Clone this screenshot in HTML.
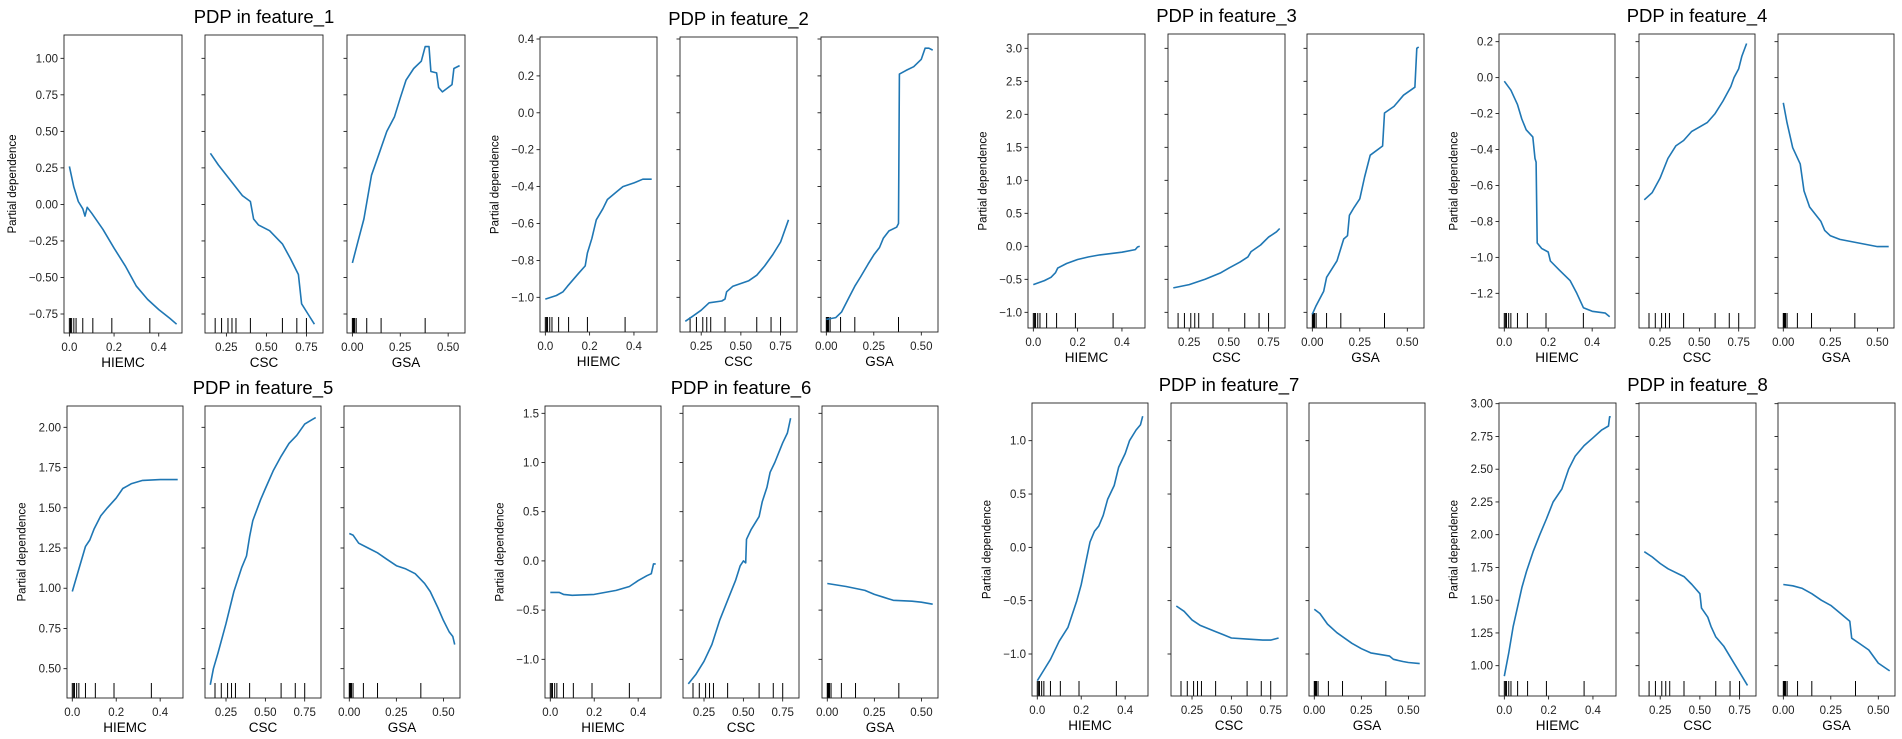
<!DOCTYPE html>
<html><head><meta charset="utf-8">
<style>
html,body{margin:0;padding:0;background:#fff;}
svg{display:block;font-family:"Liberation Sans","DejaVu Sans",sans-serif;}
</style></head>
<body>
<svg id="fig" width="1902" height="739" viewBox="0 0 1902 739" xmlns="http://www.w3.org/2000/svg"></svg>
<script>
// ---- data arrays ----
const featureTitles = ["PDP in feature_1","PDP in feature_2","PDP in feature_3","PDP in feature_4","PDP in feature_5","PDP in feature_6","PDP in feature_7","PDP in feature_8"];
const varNames = ["HIEMC","CSC","GSA"];
const hiemcTicks = [0.0,0.2,0.4];
const hiemcTickLabels = ["0.0","0.2","0.4"];
const cscTicks = [0.25,0.5,0.75];
const cscTickLabels = ["0.25","0.50","0.75"];
const gsaTicks = [0.0,0.25,0.5];
const gsaTickLabels = ["0.00","0.25","0.50"];
const hiemcRug = [0.0,0.005,0.01,0.02,0.03,0.06,0.105,0.19,0.36];
const cscRug = [0.18,0.22,0.26,0.285,0.31,0.4,0.6,0.69,0.75];
const gsaRug = [0.0,0.004,0.008,0.012,0.02,0.075,0.15,0.38];

const yTicks1 = [-0.75,-0.5,-0.25,0,0.25,0.5,0.75,1.0];
const yTicks2 = [-1.0,-0.8,-0.6,-0.4,-0.2,0,0.2,0.4];
const yTicks3 = [-1.0,-0.5,0,0.5,1.0,1.5,2.0,2.5,3.0];
const yTicks4 = [-1.2,-1.0,-0.8,-0.6,-0.4,-0.2,0,0.2];
const yTicks5 = [0.5,0.75,1.0,1.25,1.5,1.75,2.0];
const yTicks6 = [-1.0,-0.5,0,0.5,1.0,1.5];
const yTicks7 = [-1.0,-0.5,0,0.5,1.0];
const yTicks8 = [1.0,1.25,1.5,1.75,2.0,2.25,2.5,2.75,3.0];

const f1HiemcX=[0,0.02,0.04,0.06,0.07,0.08,0.1,0.15,0.2,0.25,0.3,0.35,0.4,0.45,0.48];
const f1HiemcY=[0.26,0.12,0.02,-0.03,-0.08,-0.02,-0.06,-0.17,-0.3,-0.42,-0.56,-0.65,-0.72,-0.78,-0.82];
const f1CscX=[0.15,0.2,0.3,0.35,0.4,0.42,0.45,0.52,0.6,0.65,0.7,0.72,0.76,0.8];
const f1CscY=[0.35,0.27,0.13,0.06,0.02,-0.1,-0.14,-0.18,-0.27,-0.37,-0.48,-0.68,-0.75,-0.82];
const f1GsaX=[0,0.03,0.06,0.08,0.1,0.14,0.18,0.22,0.25,0.28,0.32,0.36,0.38,0.4,0.41,0.44,0.45,0.47,0.52,0.53,0.56];
const f1GsaY=[-0.4,-0.25,-0.1,0.05,0.2,0.35,0.5,0.6,0.73,0.85,0.93,0.98,1.08,1.08,0.91,0.9,0.8,0.77,0.82,0.93,0.95];

const f2HiemcX=[0,0.05,0.08,0.1,0.15,0.18,0.19,0.21,0.23,0.26,0.28,0.32,0.35,0.4,0.44,0.48];
const f2HiemcY=[-1.01,-0.99,-0.97,-0.94,-0.87,-0.83,-0.76,-0.68,-0.58,-0.52,-0.47,-0.43,-0.4,-0.38,-0.36,-0.36];
const f2CscX=[0.15,0.2,0.25,0.3,0.38,0.4,0.41,0.45,0.55,0.6,0.65,0.7,0.75,0.8];
const f2CscY=[-1.13,-1.1,-1.07,-1.03,-1.02,-1.01,-0.97,-0.94,-0.91,-0.88,-0.83,-0.77,-0.7,-0.58];
const f2GsaX=[0,0.05,0.08,0.12,0.15,0.18,0.22,0.25,0.28,0.3,0.33,0.37,0.38,0.385,0.42,0.46,0.5,0.52,0.54,0.56];
const f2GsaY=[-1.12,-1.11,-1.08,-1.0,-0.94,-0.89,-0.82,-0.77,-0.73,-0.68,-0.64,-0.62,-0.6,0.21,0.23,0.25,0.29,0.35,0.35,0.34];

const f3HiemcX=[0,0.05,0.08,0.1,0.11,0.15,0.2,0.25,0.3,0.35,0.4,0.46,0.47,0.48];
const f3HiemcY=[-0.58,-0.52,-0.47,-0.4,-0.33,-0.26,-0.2,-0.16,-0.13,-0.11,-0.09,-0.05,-0.01,0.0];
const f3CscX=[0.15,0.25,0.35,0.45,0.5,0.57,0.62,0.64,0.7,0.75,0.8,0.82];
const f3CscY=[-0.63,-0.58,-0.5,-0.4,-0.33,-0.24,-0.16,-0.08,0.02,0.14,0.22,0.27];
const f3GsaX=[0,0.02,0.06,0.075,0.13,0.165,0.185,0.195,0.22,0.25,0.275,0.305,0.37,0.38,0.43,0.48,0.54,0.55,0.56];
const f3GsaY=[-1.03,-0.9,-0.68,-0.47,-0.22,0.11,0.16,0.47,0.59,0.72,1.05,1.38,1.52,2.02,2.12,2.29,2.41,3.0,3.02];

const f4HiemcX=[0,0.03,0.06,0.08,0.1,0.13,0.14,0.145,0.15,0.17,0.2,0.21,0.25,0.3,0.33,0.36,0.4,0.46,0.48];
const f4HiemcY=[-0.02,-0.07,-0.15,-0.23,-0.29,-0.33,-0.45,-0.47,-0.92,-0.95,-0.97,-1.02,-1.07,-1.13,-1.2,-1.28,-1.3,-1.31,-1.33];
const f4CscX=[0.15,0.2,0.25,0.3,0.35,0.4,0.45,0.55,0.6,0.65,0.7,0.72,0.75,0.77,0.8];
const f4CscY=[-0.68,-0.64,-0.56,-0.45,-0.38,-0.35,-0.3,-0.25,-0.2,-0.13,-0.05,0.0,0.05,0.12,0.19];
const f4GsaX=[0,0.02,0.05,0.09,0.11,0.14,0.2,0.22,0.25,0.3,0.4,0.5,0.56];
const f4GsaY=[-0.14,-0.25,-0.39,-0.48,-0.63,-0.72,-0.8,-0.85,-0.88,-0.9,-0.92,-0.94,-0.94];

const f5HiemcX=[0,0.03,0.06,0.08,0.1,0.13,0.16,0.2,0.23,0.27,0.32,0.4,0.48];
const f5HiemcY=[0.98,1.12,1.26,1.3,1.37,1.45,1.5,1.56,1.62,1.65,1.67,1.675,1.675];
const f5CscX=[0.15,0.17,0.2,0.25,0.3,0.35,0.38,0.4,0.42,0.47,0.5,0.55,0.6,0.65,0.7,0.75,0.8,0.82];
const f5CscY=[0.4,0.5,0.6,0.78,0.98,1.13,1.2,1.32,1.42,1.55,1.62,1.73,1.82,1.9,1.95,2.02,2.05,2.06];
const f5GsaX=[0,0.02,0.05,0.1,0.15,0.2,0.25,0.3,0.35,0.4,0.43,0.47,0.5,0.53,0.55,0.56];
const f5GsaY=[1.34,1.33,1.28,1.25,1.22,1.18,1.14,1.12,1.09,1.03,0.98,0.88,0.8,0.73,0.7,0.65];

const f6HiemcX=[0,0.04,0.06,0.1,0.2,0.3,0.36,0.4,0.44,0.46,0.47,0.48];
const f6HiemcY=[-0.32,-0.32,-0.34,-0.35,-0.34,-0.3,-0.26,-0.2,-0.15,-0.13,-0.03,-0.03];
const f6CscX=[0.15,0.2,0.25,0.3,0.35,0.4,0.45,0.48,0.5,0.515,0.52,0.55,0.6,0.62,0.65,0.67,0.7,0.75,0.78,0.8];
const f6CscY=[-1.25,-1.15,-1.02,-0.85,-0.6,-0.4,-0.2,-0.05,0.0,-0.02,0.22,0.32,0.45,0.6,0.75,0.9,1.0,1.2,1.3,1.45];
const f6GsaX=[0,0.1,0.2,0.25,0.3,0.35,0.45,0.5,0.56];
const f6GsaY=[-0.23,-0.26,-0.3,-0.34,-0.37,-0.4,-0.41,-0.42,-0.44];

const f7HiemcX=[0,0.03,0.06,0.1,0.14,0.18,0.2,0.22,0.24,0.26,0.28,0.3,0.32,0.35,0.37,0.4,0.42,0.45,0.47,0.48];
const f7HiemcY=[-1.25,-1.15,-1.05,-0.88,-0.75,-0.5,-0.35,-0.15,0.05,0.15,0.2,0.3,0.45,0.58,0.75,0.88,1.0,1.1,1.15,1.23];
const f7CscX=[0.15,0.2,0.25,0.3,0.4,0.45,0.5,0.6,0.7,0.75,0.8];
const f7CscY=[-0.55,-0.6,-0.68,-0.73,-0.79,-0.82,-0.85,-0.86,-0.87,-0.87,-0.85];
const f7GsaX=[0,0.03,0.07,0.12,0.2,0.25,0.3,0.4,0.42,0.47,0.5,0.56];
const f7GsaY=[-0.58,-0.62,-0.72,-0.8,-0.9,-0.95,-0.99,-1.02,-1.05,-1.07,-1.08,-1.09];

const f8HiemcX=[0,0.02,0.04,0.06,0.08,0.1,0.13,0.16,0.19,0.22,0.26,0.29,0.32,0.36,0.4,0.44,0.47,0.475,0.48];
const f8HiemcY=[0.92,1.1,1.3,1.45,1.6,1.72,1.87,2.0,2.12,2.25,2.35,2.5,2.6,2.68,2.74,2.8,2.83,2.9,2.9];
const f8CscX=[0.15,0.2,0.25,0.3,0.4,0.45,0.5,0.51,0.55,0.57,0.6,0.65,0.7,0.75,0.8];
const f8CscY=[1.87,1.83,1.78,1.74,1.68,1.62,1.55,1.44,1.37,1.3,1.22,1.15,1.05,0.95,0.85];
const f8GsaX=[0,0.05,0.1,0.15,0.2,0.25,0.3,0.35,0.36,0.4,0.45,0.5,0.55,0.56];
const f8GsaY=[1.62,1.61,1.59,1.55,1.5,1.46,1.4,1.34,1.21,1.17,1.12,1.02,0.97,0.96];

// ---- layout (pixels) ----
const NS="http://www.w3.org/2000/svg";
const svg=document.getElementById('fig');
const xlims=[[-0.024,0.504],[0.1165,0.8535],[-0.028,0.588]];
const xTickSets=[[hiemcTicks,hiemcTickLabels],[cscTicks,cscTickLabels],[gsaTicks,gsaTickLabels]];
const rugs=[hiemcRug,cscRug,gsaRug];
const groups=[
 {lefts:[64,205,347],w:118,top:35,bot:333,v0:1.0,p0:58.3,v1:-0.75,p1:314,ticks:yTicks1,dec:2,series:[[f1HiemcX,f1HiemcY],[f1CscX,f1CscY],[f1GsaX,f1GsaY]]},
 {lefts:[540,680,821],w:117,top:37,bot:332,v0:0.4,p0:39,v1:-1.0,p1:297.3,ticks:yTicks2,dec:1,series:[[f2HiemcX,f2HiemcY],[f2CscX,f2CscY],[f2GsaX,f2GsaY]]},
 {lefts:[1028,1168,1307],w:117,top:34,bot:328,v0:3.0,p0:48.3,v1:-1.0,p1:312.3,ticks:yTicks3,dec:1,series:[[f3HiemcX,f3HiemcY],[f3CscX,f3CscY],[f3GsaX,f3GsaY]]},
 {lefts:[1499,1639,1778],w:116,top:34,bot:328,v0:0.2,p0:41.7,v1:-1.2,p1:293.3,ticks:yTicks4,dec:1,series:[[f4HiemcX,f4HiemcY],[f4CscX,f4CscY],[f4GsaX,f4GsaY]]},
 {lefts:[67,205,344],w:116,top:406,bot:698,v0:2.0,p0:427.3,v1:0.5,p1:668.7,ticks:yTicks5,dec:2,series:[[f5HiemcX,f5HiemcY],[f5CscX,f5CscY],[f5GsaX,f5GsaY]]},
 {lefts:[545,683,822],w:116,top:406,bot:698,v0:1.5,p0:413.3,v1:-1.0,p1:659.3,ticks:yTicks6,dec:1,series:[[f6HiemcX,f6HiemcY],[f6CscX,f6CscY],[f6GsaX,f6GsaY]]},
 {lefts:[1032,1171,1309],w:116,top:403,bot:696,v0:1.0,p0:440.7,v1:-1.0,p1:654,ticks:yTicks7,dec:1,series:[[f7HiemcX,f7HiemcY],[f7CscX,f7CscY],[f7GsaX,f7GsaY]]},
 {lefts:[1499,1639,1778],w:117,top:403,bot:696,v0:3.0,p0:403.7,v1:1.0,p1:665.7,ticks:yTicks8,dec:2,series:[[f8HiemcX,f8HiemcY],[f8CscX,f8CscY],[f8GsaX,f8GsaY]]}
];

function mk(tag,attrs,parent){const e=document.createElementNS(NS,tag);for(const k in attrs)e.setAttribute(k,attrs[k]);(parent||svg).appendChild(e);return e;}
function fmt(v,d){const s=Math.abs(v).toFixed(d);return (v<-1e-9?"\u2212":"")+s;}

groups.forEach((g,gi)=>{
  const grp=mk('g',{});
  
  
  const yScale=v=>g.p0+(v-g.v0)*(g.p1-g.p0)/(g.v1-g.v0);
  const mid=g.lefts[1]+g.w/2;
  const t=mk('text',{x:mid,y:g.top-12,'text-anchor':'middle','font-size':'18.5',fill:'#000'},grp);
  t.textContent=featureTitles[gi];
  
  
  g.lefts.forEach((L,pi)=>{
    const W=g.w;
    const pg=mk('g',{},grp);
    
    
    const xl=xlims[pi];
    const xScale=v=>L+(v-xl[0])/(xl[1]-xl[0])*W;
    // y ticks
    g.ticks.forEach(v=>{
      const y=yScale(v);
      if(y<g.top-0.5||y>g.bot+0.5)return;
      const tk=mk('line',{x1:L-3.5,x2:L,y1:y,y2:y,stroke:'#000','stroke-width':0.8},pg);
      
      
      if(pi===0){
        const lb=mk('text',{x:L-6,y:y+4,'text-anchor':'end','font-size':'11.5',fill:'#222'},pg);
        lb.textContent=fmt(v,g.dec);
        
        
      }
    });
    // x ticks
    const [xt,xtl]=xTickSets[pi];
    xt.forEach((v,i)=>{
      const x=xScale(v);
      const tk=mk('line',{x1:x,x2:x,y1:g.bot,y2:g.bot+3.5,stroke:'#000','stroke-width':0.8},pg);
      
      
      const lb=mk('text',{x:x,y:g.bot+18,'text-anchor':'middle','font-size':'11.5',fill:'#222'},pg);
      lb.textContent=xtl[i];
      
      
    });
    // rug
    rugs[pi].forEach(v=>{
      const x=xScale(v);
      const r=mk('line',{x1:x,x2:x,y1:g.bot-15,y2:g.bot,stroke:'#000','stroke-width':1},pg);
      
      
    });
    // curve
    const [xs,ys]=g.series[pi];
    const pts=xs.map((x,i)=>xScale(x).toFixed(1)+','+yScale(ys[i]).toFixed(1)).join(' ');
    const pl=mk('polyline',{points:pts,fill:'none',stroke:'#1f77b4','stroke-width':1.6,'stroke-linejoin':'round'},pg);
    
    
    // frame
    const fr=mk('rect',{x:L,y:g.top,width:W,height:g.bot-g.top,fill:'none',stroke:'#222','stroke-width':0.9},pg);
    
    
    // x label
    const xlab=mk('text',{x:L+W/2,y:g.bot+34,'text-anchor':'middle','font-size':'13.5',fill:'#000'},pg);
    xlab.textContent=varNames[pi];
    
    
    if(pi===0){
      const maxLen=Math.max(...g.ticks.map(v=>fmt(v,g.dec).length));
      const lx=L-6-maxLen*6.6-9;
      const cy=(g.top+g.bot)/2;
      const yl=mk('text',{x:lx,y:cy,'text-anchor':'middle','font-size':'11.5',fill:'#000',transform:'rotate(-90 '+lx+' '+cy+')'},pg);
      yl.textContent='Partial dependence';
      
      
    }
  });
});
</script>
</body></html>
